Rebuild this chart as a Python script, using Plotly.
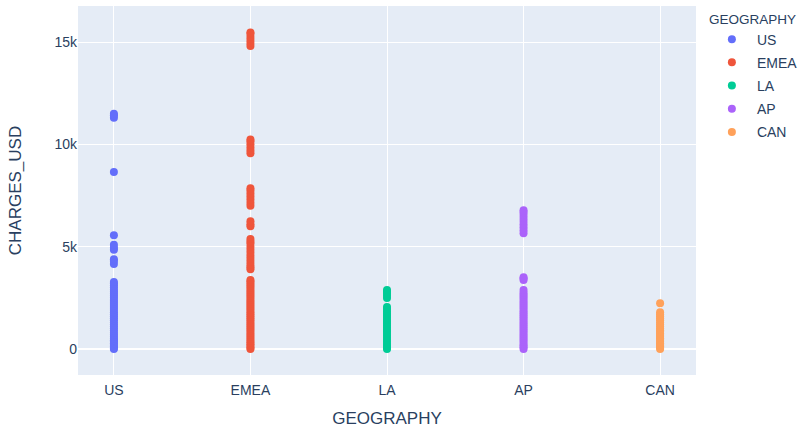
import plotly.graph_objects as go

categories = ["US", "EMEA", "LA", "AP", "CAN"]
colors = ["#636efa", "#EF553B", "#00cc96", "#ab63fa", "#FFA15A"]

us_charges = [0, 50, 120, 200, 280, 350, 430, 500, 600, 700, 800, 900, 1000, 1100, 1200,
              1300, 1400, 1500, 1600, 1700, 1800, 1900, 2000, 2100, 2200, 2300, 2400,
              2500, 2600, 2700, 2800, 2900, 3000, 3100, 3200, 3270,
              4150, 4300, 4390, 4850, 4950, 5100, 5560, 8650, 11300, 11420, 11500]
emea_charges = [0, 60, 150, 230, 320, 400, 500, 600, 700, 800, 900, 1000, 1100, 1200,
                1300, 1400, 1500, 1600, 1700, 1800, 1900, 2000, 2100, 2200, 2300, 2400,
                2500, 2600, 2700, 2800, 2900, 3000, 3100, 3200, 3300, 3370,
                3900, 4000, 4100, 4250, 4400, 4550, 4700, 4850, 5000, 5150, 5250, 5370,
                6000, 6100, 6240, 7000, 7150, 7300, 7450, 7600, 7750, 7850,
                9560, 9700, 9850, 10000, 10150, 10240,
                14800, 14950, 15100, 15250, 15400, 15460]
la_charges = [0, 70, 150, 250, 350, 450, 550, 650, 750, 850, 950, 1050, 1150, 1250,
              1350, 1450, 1550, 1650, 1750, 1850, 1950, 2050,
              2490, 2600, 2700, 2800, 2880]
ap_charges = [0, 80, 160, 250, 350, 450, 550, 650, 750, 850, 950, 1050, 1150, 1250,
              1350, 1450, 1550, 1650, 1750, 1850, 1950, 2050, 2150, 2250, 2350, 2450,
              2550, 2650, 2750, 2880, 3370, 3450, 3510,
              5660, 5800, 5950, 6100, 6250, 6400, 6550, 6680, 6780]
can_charges = [0, 60, 130, 200, 280, 360, 440, 520, 600, 680, 760, 840, 920, 1000,
               1100, 1200, 1300, 1400, 1500, 1600, 1700, 1800, 2240]

y_range = [-1270, 16760]

series = [us_charges, emea_charges, la_charges, ap_charges, can_charges]

fig = go.Figure()
for cat, vals, col in zip(categories, series, colors):
    fig.add_trace(go.Scatter(
        x=[cat] * len(vals), y=vals, mode="markers", name=cat,
        marker=dict(color=col, size=8), legendgroup=cat,
    ))

fig.update_layout(
    template="plotly",
    width=801, height=428,
    margin=dict(l=78, r=105, t=6, b=53, autoexpand=False),
    font=dict(family="Liberation Sans, Arial, Helvetica, sans-serif", size=14, color="#2a3f5f"),
    legend=dict(title=dict(text="GEOGRAPHY", font=dict(size=13.5)), tracegroupgap=2,
                font=dict(size=14),
                xref="container", x=0.8825, xanchor="left", y=1, yanchor="top",
                itemwidth=40),
    xaxis=dict(title=dict(text="GEOGRAPHY", font=dict(size=17), standoff=21),
               categoryorder="array", categoryarray=categories, automargin=False,
               ticks="outside", ticklen=2, tickcolor="rgba(0,0,0,0)"),
    yaxis=dict(title=dict(text="CHARGES_USD", font=dict(size=17), standoff=28),
               range=y_range, dtick=5000, tick0=0, automargin=False),
)

fig.write_html("out.html", config={"displayModeBar": False},
               post_script="document.body.style.margin='0';document.body.style.overflow='hidden';")
